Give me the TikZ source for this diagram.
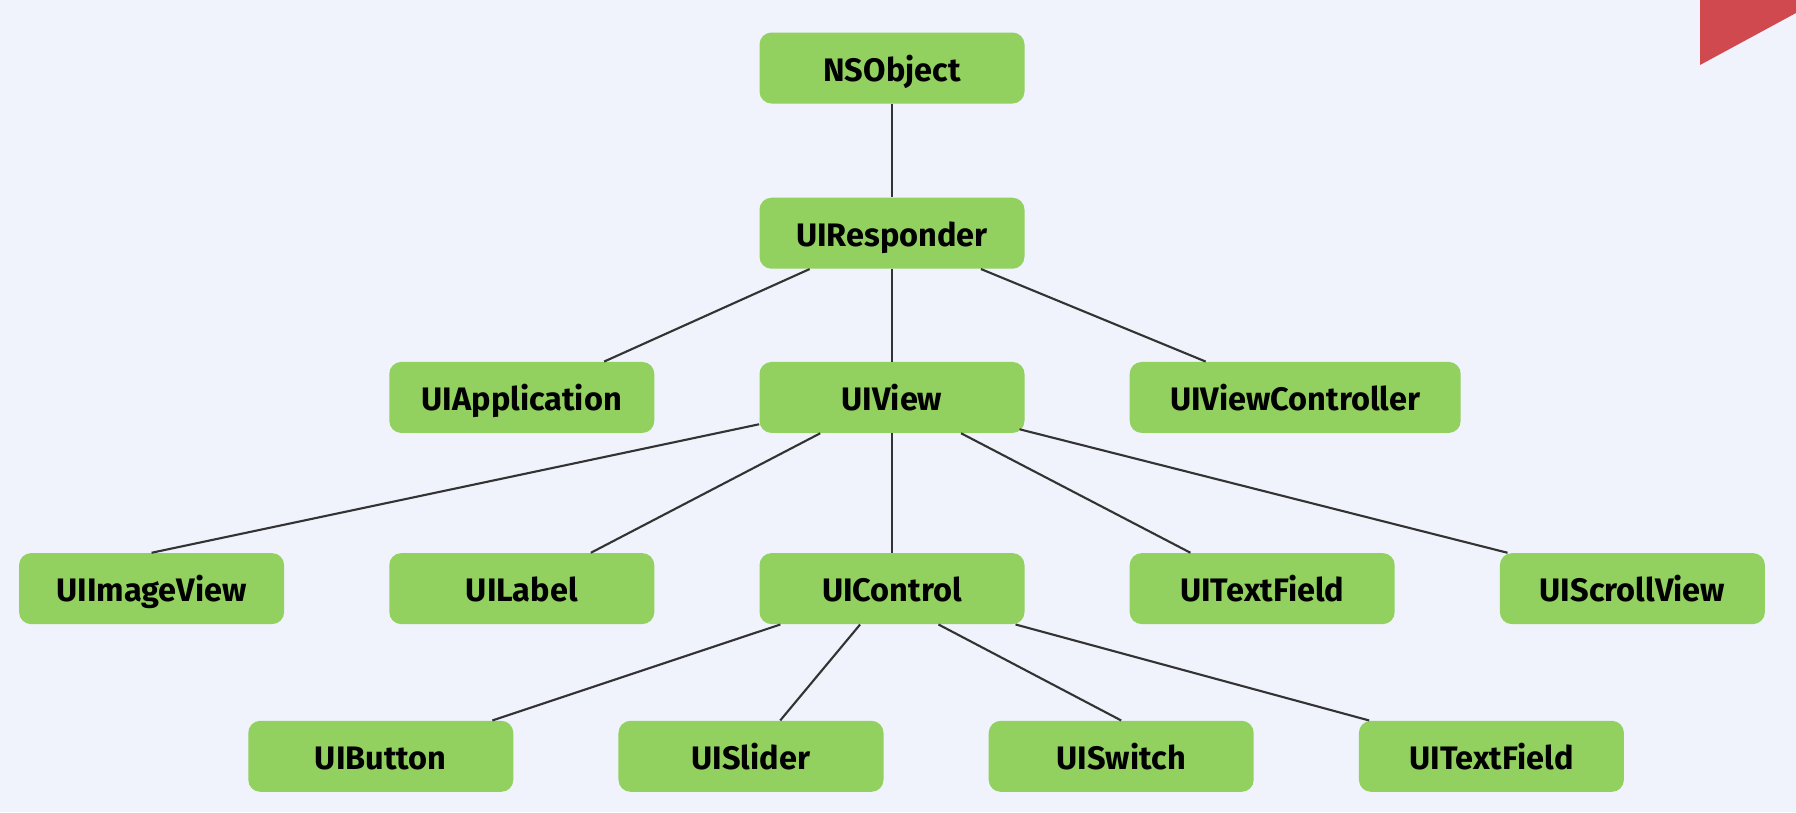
\documentclass[tikz,border=0pt]{standalone}
\usepackage{fontspec}
\setmainfont{Fira Sans}
\usetikzlibrary{positioning,calc}

\definecolor{boxgreen}{RGB}{146,208,96}
\definecolor{bggray}{RGB}{240,243,252}
\definecolor{cornerred}{RGB}{208,73,79}

\tikzset{
  cls/.style={rectangle, rounded corners=0.24cm, fill=boxgreen, minimum width=5.3cm,
              minimum height=1.42cm, text height=15pt, text depth=0pt,
              font=\fontsize{18.5}{22}\selectfont\bfseries},
  link/.style={draw=black!80, line width=1.2pt}
}

\begin{document}
\begin{tikzpicture}[node distance=2.09cm]
     \fill[bggray] (-17.84,1.36) rectangle (18.08,-14.88);
     \useasboundingbox (-17.84,1.36) rectangle (18.08,-14.88);
     \fill[cornerred] (16.16,1.36) -- (16.16,0.06) -- (18.08,1.10) -- (18.08,1.36) -- cycle;

     % top of the tree
     \node[cls] (nsobject)                                  {NSObject};
     \node[cls] (responder)   [below=1.87cm of nsobject]    {UIResponder};

     \node[cls] (view)        [below=1.85cm of responder]   {UIView};
     \node[cls] (application) [left=of view]                {UIApplication};
     \node[cls, minimum width=6.62cm] (viewcontroller) [right=of view] {UIViewController};

     \node[cls] (control)     [below=2.39cm of view]        {UIControl};
     \node[cls] (label)       [left=of control]             {UILabel};
     \node[cls] (imageview)   [left=of label]               {UIImageView};
     \node[cls] (textfield)   [right=of control]            {UITextField};
     \node[cls] (scrollview)  [right=of textfield]          {UIScrollView};

     \node[cls] (slider)      [below=1.92cm of control, xshift=-2.82cm] {UISlider};
     \node[cls] (button)      [left=of slider]              {UIButton};
     \node[cls] (switch)      [right=of slider]             {UISwitch};
     \node[cls] (textfieldb)  [right=of switch]             {UITextField};

     % connectors
     \path[link] (nsobject) -- (responder);
     \path[link] ($(responder.south west)!0.19!(responder.south east)$) -- ($(application.north west)!0.81!(application.north east)$);
     \path[link] (responder) -- (view);
     \path[link] ($(responder.south west)!0.835!(responder.south east)$) -- ($(viewcontroller.north west)!0.23!(viewcontroller.north east)$);

     \path[link] ($(view.south west)+(0,0.18)$) -- (imageview.north);
     \path[link] ($(view.south west)!0.23!(view.south east)$) -- ($(label.north west)!0.76!(label.north east)$);
     \path[link] (view) -- (control);
     \path[link] ($(view.south west)!0.76!(view.south east)$) -- ($(textfield.north west)!0.23!(textfield.north east)$);
     \path[link] ($(view.south west)!0.98!(view.south east)+(0,0.08)$) -- ($(scrollview.north west)!0.03!(scrollview.north east)$);

     \path[link] ($(control.south west)!0.08!(control.south east)$) -- ($(button.north west)!0.92!(button.north east)$);
     \path[link] ($(control.south west)!0.38!(control.south east)$) -- ($(slider.north west)!0.61!(slider.north east)$);
     \path[link] ($(control.south west)!0.675!(control.south east)$) -- (switch.north);
     \path[link] ($(control.south west)!0.965!(control.south east)$) -- ($(textfieldb.north west)!0.04!(textfieldb.north east)$);
\end{tikzpicture}
\end{document}
